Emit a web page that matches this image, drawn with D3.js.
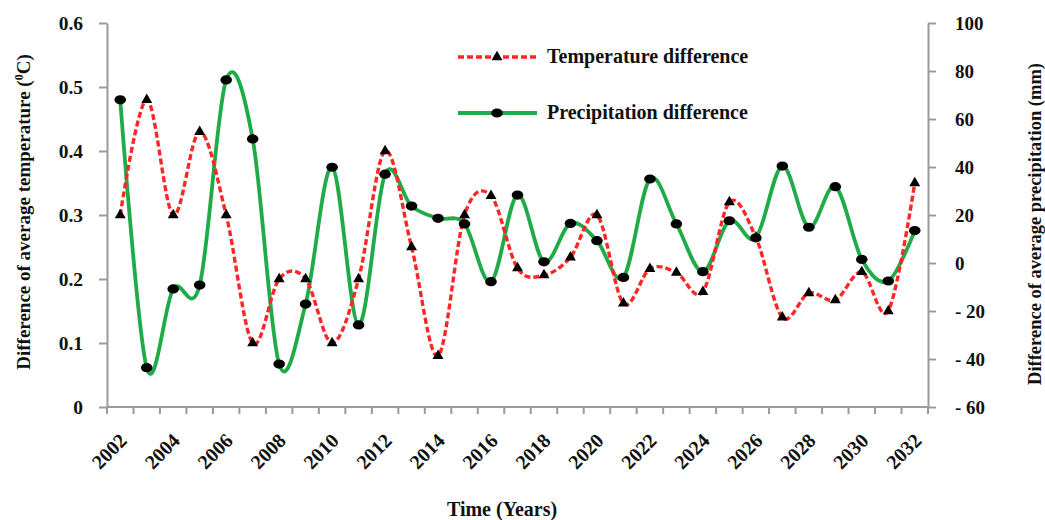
<!DOCTYPE html>
<html>
<head>
<meta charset="utf-8">
<script src="https://cdn.jsdelivr.net/npm/d3@7"></script>
<style>
  body { margin: 0; background: #fff; }
  text { font-family: "Liberation Serif", "Times New Roman", serif; font-weight: bold; fill: #111; }
</style>
</head>
<body>
<div id="chart"></div>
<script>
// years on the category axis
const years = d3.range(2002, 2033);
const labelYears = [2002, 2004, 2006, 2008, 2010, 2012, 2014, 2016, 2018, 2020, 2022, 2024, 2026, 2028, 2030, 2032];

// Temperature difference (degC), left axis
const tempDiff = [0.30, 0.48, 0.30, 0.43, 0.30, 0.10, 0.20, 0.20, 0.10, 0.20,
                  0.40, 0.25, 0.08, 0.30, 0.33, 0.217, 0.206, 0.234, 0.30, 0.162,
                  0.216, 0.21, 0.18, 0.32, 0.265, 0.14, 0.178, 0.167, 0.211, 0.15, 0.35];

// Precipitation difference (mm), right axis
const precDiff = [68, -43.6, -10.8, -9.2, 76.3, 51.7, -42.1, -17.1, 39.9, -25.8,
                  37, 23.7, 18.6, 16.3, -7.8, 28.3, 0.5, 16.5, 9.3, -6,
                  35, 16.3, -3.6, 17.6, 10.5, 40.4, 14.9, 31.8, 1.5, -7.5, 13.5];

const tempTicks = [0, 0.1, 0.2, 0.3, 0.4, 0.5, 0.6];
const precTicks = [-60, -40, -20, 0, 20, 40, 60, 80, 100];

const w = 1045;
const h = 520;
const plotLeft = 107;
const plotRight = 928;
const plotTop = 23;
const plotBottom = 407;

const red = '#ff2626';
const green = '#1fac48';
const axisColor = '#9a9a9a';

const svg = d3.select('#chart')
  .append('svg')
  .attr('width', w)
  .attr('height', h);

const xScale = d3.scaleBand()
  .domain(years)
  .range([plotLeft, plotRight])
  .padding(0);

const cx = (yr) => xScale(yr) + xScale.bandwidth() / 2;

const yTemp = d3.scaleLinear()
  .domain([0, 0.6])
  .range([plotBottom, plotTop]);

const yPrec = d3.scaleLinear()
  .domain([-60, 100])
  .range([plotBottom, plotTop]);

// left axis
const leftAxis = d3.axisLeft(yTemp)
  .tickValues(tempTicks)
  .tickSize(8)
  .tickSizeOuter(0)
  .tickPadding(16)
  .tickFormat(d => d === 0 ? '0' : d.toFixed(1));

svg.append('g')
  .attr('transform', 'translate(' + plotLeft + ',0)')
  .call(leftAxis)
  .call(g => g.select('.domain').attr('stroke', axisColor).attr('stroke-width', 2))
  .call(g => g.selectAll('.tick line').attr('stroke', axisColor).attr('stroke-width', 2))
  .call(g => g.selectAll('.tick text').style('font-size', '19.5px').attr('fill', '#111'));

// right axis
const rightAxis = d3.axisRight(yPrec)
  .tickValues(precTicks)
  .tickSize(8)
  .tickSizeOuter(0)
  .tickPadding(19)
  .tickFormat(d => d < 0 ? '- ' + Math.abs(d) : String(d));

svg.append('g')
  .attr('transform', 'translate(' + plotRight + ',0)')
  .call(rightAxis)
  .call(g => g.select('.domain').attr('stroke', axisColor).attr('stroke-width', 2))
  .call(g => g.selectAll('.tick line').attr('stroke', axisColor).attr('stroke-width', 2))
  .call(g => g.selectAll('.tick text').style('font-size', '19px').attr('fill', '#111'));

// bottom axis: line, ticks on band edges, rotated labels every other year
const xg = svg.append('g');

xg.append('line')
  .attr('x1', plotLeft)
  .attr('x2', plotRight)
  .attr('y1', plotBottom)
  .attr('y2', plotBottom)
  .attr('stroke', axisColor)
  .attr('stroke-width', 2);

xg.selectAll('.xtick')
  .data(years.concat([null]))
  .enter()
  .append('line')
  .attr('class', 'xtick')
  .attr('x1', d => d === null ? plotRight : xScale(d))
  .attr('x2', d => d === null ? plotRight : xScale(d))
  .attr('y1', plotBottom)
  .attr('y2', plotBottom + 7)
  .attr('stroke', axisColor)
  .attr('stroke-width', 2);

xg.selectAll('.xlabel')
  .data(labelYears)
  .enter()
  .append('text')
  .attr('class', 'xlabel')
  .attr('text-anchor', 'end')
  .attr('dy', '0.35em')
  .attr('transform', d => 'translate(' + (cx(d) + 3) + ',' + 437 + ') rotate(-45)')
  .style('font-size', '20px')
  .text(d => d);

// axis titles
const leftTitle = svg.append('text')
  .attr('text-anchor', 'middle')
  .attr('transform', 'translate(30,212) rotate(-90)')
  .style('font-size', '19px');
leftTitle.append('tspan').text('Difference of average temperature (');
leftTitle.append('tspan').attr('dy', '-7').style('font-size', '12px').text('0');
leftTitle.append('tspan').attr('dy', '7').text('C)');

svg.append('text')
  .attr('text-anchor', 'middle')
  .attr('transform', 'translate(1041,224) rotate(-90)')
  .style('font-size', '18.5px')
  .text('Difference of average precipitation (mm)');

svg.append('text')
  .attr('text-anchor', 'middle')
  .attr('x', 502)
  .attr('y', 516)
  .style('font-size', '20px')
  .text('Time (Years)');

// lines
const tempLine = d3.line()
  .x((d, i) => cx(years[i]))
  .y(d => yTemp(d))
  .curve(d3.curveCardinal.tension(0));

const precLine = d3.line()
  .x((d, i) => cx(years[i]))
  .y(d => yPrec(d))
  .curve(d3.curveCardinal.tension(0));

svg.append('path')
  .datum(precDiff)
  .attr('d', precLine)
  .attr('fill', 'none')
  .attr('stroke', green)
  .attr('stroke-width', 3.8);

svg.append('path')
  .datum(tempDiff)
  .attr('d', tempLine)
  .attr('fill', 'none')
  .attr('stroke', red)
  .attr('stroke-width', 3.4)
  .attr('stroke-dasharray', '6,3');

const tri = d3.symbol().type(d3.symbolTriangle).size(52);

svg.selectAll('.tmark')
  .data(tempDiff)
  .enter()
  .append('path')
  .attr('class', 'tmark')
  .attr('d', tri)
  .attr('transform', (d, i) => 'translate(' + cx(years[i]) + ',' + yTemp(d) + ')')
  .attr('fill', '#000');

svg.selectAll('.pmark')
  .data(precDiff)
  .enter()
  .append('ellipse')
  .attr('class', 'pmark')
  .attr('cx', (d, i) => cx(years[i]))
  .attr('cy', d => yPrec(d))
  .attr('rx', 5.8)
  .attr('ry', 4.6)
  .attr('fill', '#000');

// legend
const legend = svg.append('g');

legend.append('line')
  .attr('x1', 458).attr('x2', 537).attr('y1', 57).attr('y2', 57)
  .attr('stroke', red).attr('stroke-width', 3.4).attr('stroke-dasharray', '6,3');
legend.append('path')
  .attr('d', tri)
  .attr('transform', 'translate(497,57)');
legend.append('text')
  .attr('x', 547).attr('y', 56).attr('dy', '0.35em')
  .style('font-size', '20px')
  .text('Temperature difference');

legend.append('line')
  .attr('x1', 458).attr('x2', 537).attr('y1', 113).attr('y2', 113)
  .attr('stroke', green).attr('stroke-width', 3.8);
legend.append('ellipse')
  .attr('cx', 497).attr('cy', 113).attr('rx', 5.8).attr('ry', 4.6);
legend.append('text')
  .attr('x', 547).attr('y', 112).attr('dy', '0.35em')
  .style('font-size', '20px')
  .text('Precipitation difference');
</script>
</body>
</html>
